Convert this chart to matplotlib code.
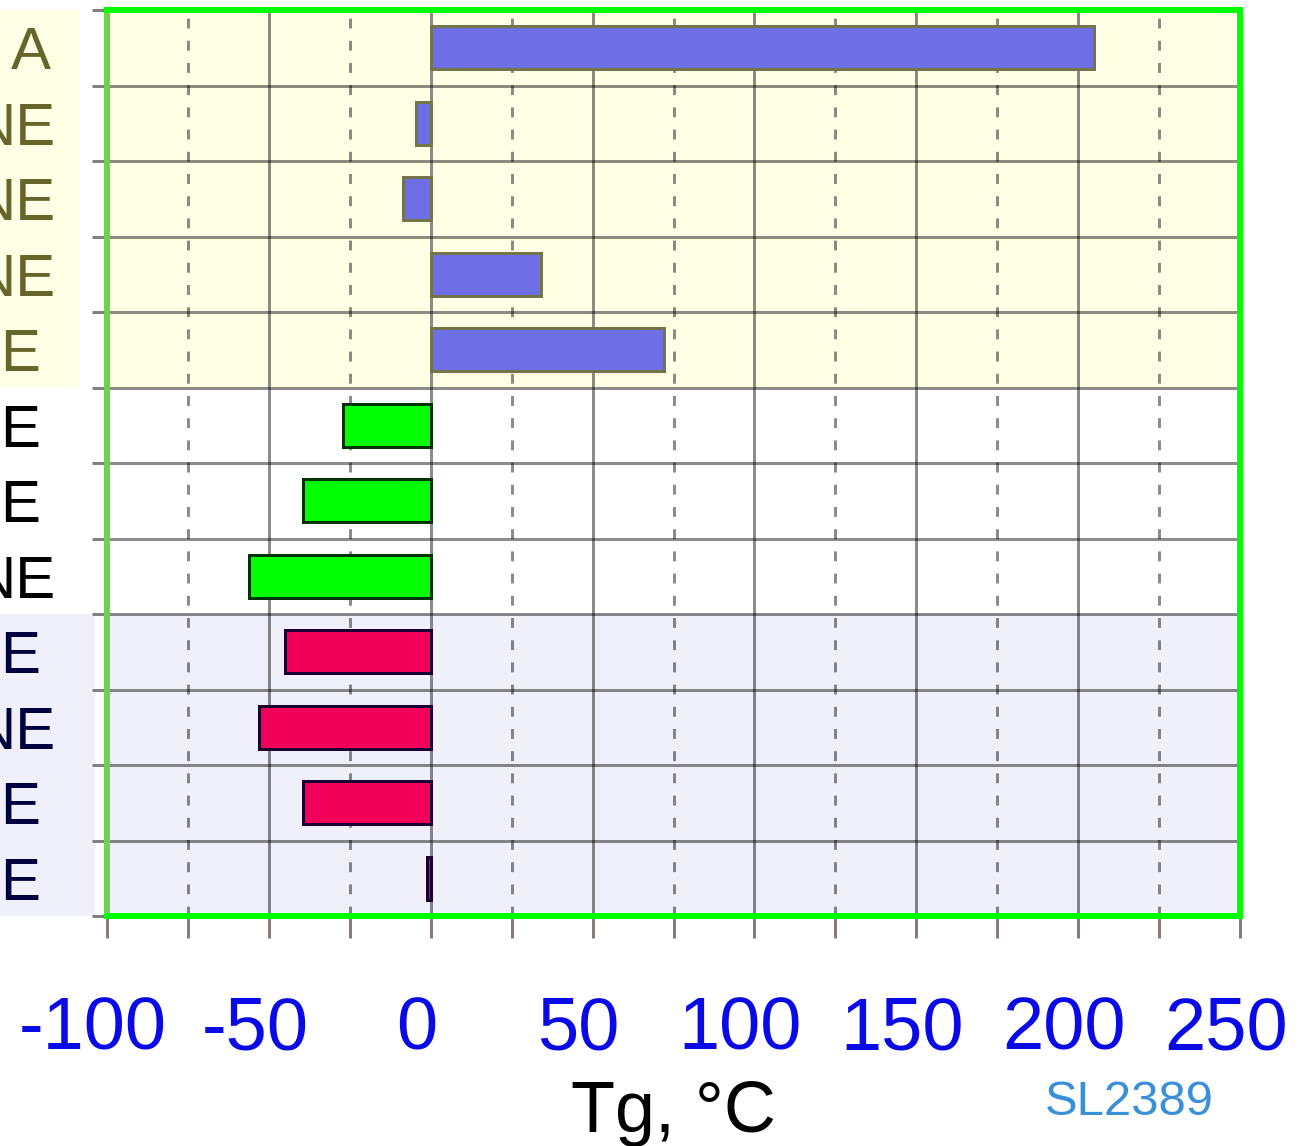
import matplotlib
matplotlib.use('Agg')
import matplotlib.pyplot as plt
from matplotlib import font_manager
from matplotlib.transforms import ScaledTranslation, blended_transform_factory
from matplotlib.patches import Rectangle
import numpy as np

# ---------------- data ----------------
categories = ["A", "NE", "NE", "NE", "E", "E", "E", "NE", "E", "NE", "E", "E"]
tg_values = [205, -4.5, -8.5, 34, 72, -27, -39.5, -56, -45, -53, -39.5, -1]
groups = [0, 0, 0, 0, 0, 1, 1, 1, 2, 2, 2, 2]
x_ticks = [-100, -50, 0, 50, 100, 150, 200, 250]
x_tick_labels = ["-100", "-50", "0", "50", "100", "150", "200", "250"]
x_minor_ticks = [-75, -25, 25, 75, 125, 175, 225]
x_label = "Tg, °C"
watermark = "SL2389"

# ---------------- style ----------------
names = {f.name for f in font_manager.fontManager.ttflist}
REG = 'Liberation Sans' if 'Liberation Sans' in names else 'DejaVu Sans'
NARROW = 'Liberation Sans Narrow' if 'Liberation Sans Narrow' in names else REG

band_colors = ['#FFFFE6', '#FFFFFF', '#F0F0FA']
fill_colors = ['#6E6EE6', '#00FF00', '#F00058']
edge_colors = ['#74744A', '#003300', '#1A0033']
label_colors = ['#66662A', '#000000', '#000040']
band_left_px = [80, 0, 95]
label_right_px = [51, 55, 55, 55, 40, 40, 40, 55, 40, 55, 40, 40]

W, H, DPI = 1299, 1146, 100
px = 72 / DPI
fig = plt.figure(figsize=(W / DPI, H / DPI), dpi=DPI)
fig.patch.set_facecolor('white')
ax_l, ax_r, ax_t, ax_b = 107, 1240, 10, 916
ax = fig.add_axes([ax_l / W, 1 - ax_b / H, (ax_r - ax_l) / W, (ax_b - ax_t) / H])

n = len(categories)
y = np.arange(n)
ax.set_xlim(-100, 250)
ax.set_ylim(n - 0.5, -0.5)

# background bands
blend = blended_transform_factory(fig.transFigure, ax.transData)
for i in range(n):
    g = groups[i]
    ax.axhspan(i - 0.5, i + 0.5, color=band_colors[g], lw=0, zorder=0.1)
    if band_left_px[g] > 0:
        ax.add_patch(Rectangle((0, i - 0.5), band_left_px[g] / W, 1, transform=blend,
                               facecolor=band_colors[g], edgecolor='none',
                               clip_on=False, zorder=0))

# bars
ax.barh(y, tg_values, height=0.57,
        color=[fill_colors[g] for g in groups],
        edgecolor=[edge_colors[g] for g in groups],
        linewidth=3 * px, zorder=3)

# grid
ax.set_axisbelow(True)
ax.set_xticks(x_ticks)
ax.set_xticks(x_minor_ticks, minor=True)
ax.set_yticks(y)
ax.set_yticks(np.arange(-0.5, n, 1), minor=True)
ax.grid(which='major', axis='x', color='black', alpha=0.45, lw=3 * px, ls='-', zorder=0.5)
ax.grid(which='minor', axis='x', color='black', alpha=0.45, lw=3 * px, ls=(0, (3.3, 4.1)), zorder=0.5)
ax.grid(which='minor', axis='y', color='black', alpha=0.45, lw=3 * px, ls='-', zorder=0.5)
ax.grid(which='major', axis='y', visible=False)

# ticks
ax.tick_params(axis='x', which='both', direction='out', length=22 * px, width=3 * px,
               color='#8c7a7a')
ax.tick_params(axis='x', which='major', labelsize=74 * px, labelcolor='#0A0AE6', pad=57 * px)
ax.tick_params(axis='y', which='major', length=0, pad=0, labelsize=60 * px)
ax.tick_params(axis='y', which='minor', direction='out', length=15 * px, width=3 * px,
               color='#808080')
ax.set_xticklabels(x_tick_labels)
ax.set_yticklabels(categories)

for lab in ax.get_xticklabels():
    lab.set_fontfamily(NARROW)
    lab.set_transform(lab.get_transform() + ScaledTranslation(-14 / DPI, 0, fig.dpi_scale_trans))
for i, lab in enumerate(ax.get_yticklabels()):
    lab.set_fontfamily(REG)
    lab.set_color(label_colors[groups[i]])
    lab.set_transform(lab.get_transform() +
                      ScaledTranslation(-(ax_l - label_right_px[i]) / DPI, 0, fig.dpi_scale_trans))

# spines
for s in ['top', 'right', 'bottom']:
    ax.spines[s].set_color('#00FF00')
    ax.spines[s].set_linewidth(6 * px)
ax.spines['left'].set_color('#70D050')
ax.spines['left'].set_linewidth(6 * px)

# x label
ax.set_xlabel(x_label, fontsize=72 * px, family=REG, color='black')
ax.xaxis.label.set_va('top')
ax.xaxis.set_label_coords(0.5, -(1080 - ax_b) / (ax_b - ax_t))

fig.text(1129 / W, 1 - 1080 / H, watermark, ha='center', va='top', color='#3A90D8',
         fontsize=49 * px, family=NARROW)

fig.savefig('out.png', dpi=DPI)
